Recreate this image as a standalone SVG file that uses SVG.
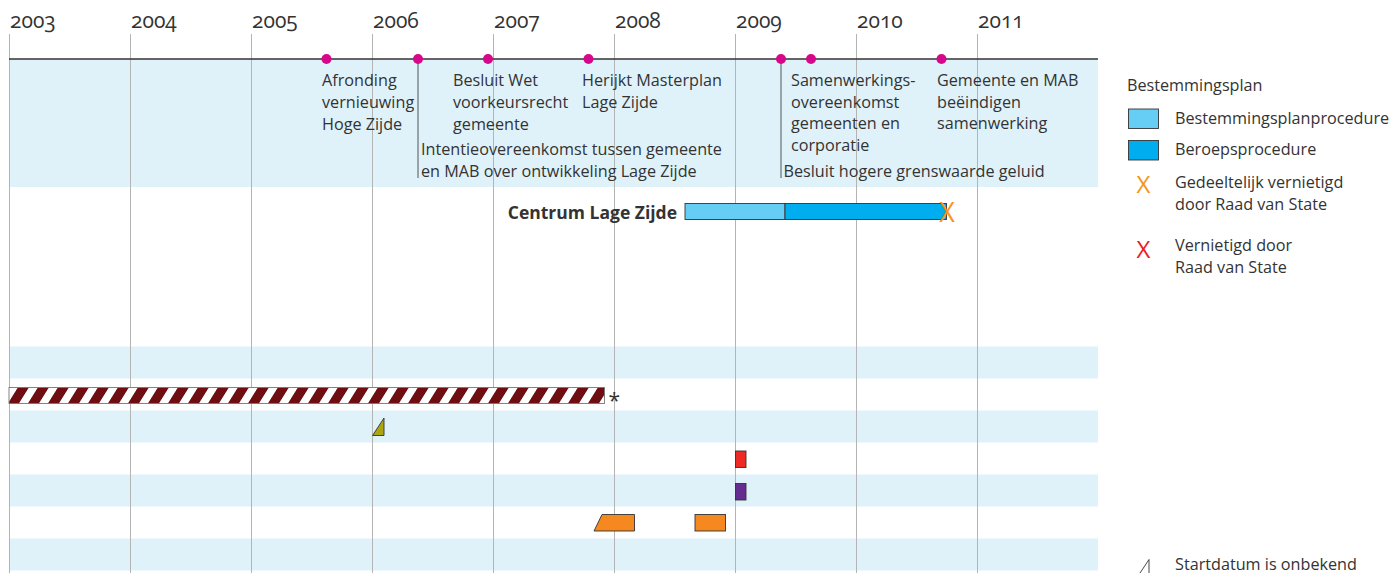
<svg xmlns="http://www.w3.org/2000/svg" width="1397" height="573" viewBox="0 0 1397 573">
<style>
text{font-family:"Open Sans","Liberation Sans",sans-serif;fill:#333333;font-size:16.2px}
.yr{font-size:21px;font-variant-numeric:oldstyle-nums;font-feature-settings:"onum"}
.band{fill:#dff2fa}
.grid{stroke:#b4b4b4;stroke-width:1;fill:none}
.dot{fill:#d6078b}
.pin{stroke:#555555;stroke-width:1}
.box{stroke:#333333;stroke-width:0.9}
.xo{fill:#f7941d;font-size:27px;text-anchor:middle}
.xr{fill:#ed1c24;font-size:27px;text-anchor:middle}
.lx{font-size:24px}
.title{font-size:17.5px;font-weight:bold;text-anchor:end}
.star{font-size:21px}
</style>
<defs>
<pattern id="stripes" patternUnits="userSpaceOnUse" width="20" height="40" patternTransform="skewX(-32)">
<rect x="0" y="0" width="20" height="40" fill="#ffffff"/>
<rect x="0" y="0" width="11" height="40" fill="#6e0e12"/>
</pattern>
</defs>
<rect width="1397" height="573" fill="#ffffff"/>

<g id="bands">
<rect class="band" x="9" y="59" width="1089" height="128"/>
<rect class="band" x="9" y="346.5" width="1089" height="32"/>
<rect class="band" x="9" y="410.5" width="1089" height="32"/>
<rect class="band" x="9" y="474.5" width="1089" height="32"/>
<rect class="band" x="9" y="538.5" width="1089" height="32"/>
</g>

<g id="grid" class="grid">
<line x1="9.5" y1="34" x2="9.5" y2="573"/>
<line x1="130.5" y1="34" x2="130.5" y2="573"/>
<line x1="251.5" y1="34" x2="251.5" y2="573"/>
<line x1="372.5" y1="34" x2="372.5" y2="573"/>
<line x1="493.5" y1="34" x2="493.5" y2="573"/>
<line x1="614.5" y1="34" x2="614.5" y2="573"/>
<line x1="735.5" y1="34" x2="735.5" y2="573"/>
<line x1="856.5" y1="34" x2="856.5" y2="573"/>
<line x1="977.5" y1="34" x2="977.5" y2="573"/>
</g>

<g id="years">
<text class="yr" x="10" y="28">2003</text>
<text class="yr" x="131" y="28">2004</text>
<text class="yr" x="252" y="28">2005</text>
<text class="yr" x="373" y="28">2006</text>
<text class="yr" x="494" y="28">2007</text>
<text class="yr" x="615" y="28">2008</text>
<text class="yr" x="736" y="28">2009</text>
<text class="yr" x="857" y="28">2010</text>
<text class="yr" x="978" y="28">2011</text>
</g>

<g id="connectors">
<line x1="9" y1="59" x2="1098" y2="59" stroke="#333333" stroke-width="1.3"/>
<line class="pin" x1="418" y1="59" x2="418" y2="178"/>
<line class="pin" x1="781" y1="59" x2="781" y2="178"/>
</g>

<g id="event-afronding">
<circle class="dot" cx="326.5" cy="59" r="5"/>
<text x="322" y="86">Afronding</text>
<text x="322" y="108">vernieuwing</text>
<text x="322" y="130">Hoge Zijde</text>
</g>
<g id="event-intentie">
<circle class="dot" cx="418" cy="59" r="5"/>
<text x="421" y="154.5">Intentieovereenkomst tussen gemeente</text>
<text x="421" y="176.5">en MAB over ontwikkeling Lage Zijde</text>
</g>
<g id="event-besluit-wet">
<circle class="dot" cx="488" cy="59" r="5"/>
<text x="453" y="86">Besluit Wet</text>
<text x="453" y="108">voorkeursrecht</text>
<text x="453" y="130">gemeente</text>
</g>
<g id="event-herijkt">
<circle class="dot" cx="588.5" cy="59" r="5"/>
<text x="582" y="86">Herijkt Masterplan</text>
<text x="582" y="108">Lage Zijde</text>
</g>
<g id="event-besluit-geluid">
<circle class="dot" cx="781" cy="59" r="5"/>
<text x="783.5" y="176.5">Besluit hogere grenswaarde geluid</text>
</g>
<g id="event-samenwerking">
<circle class="dot" cx="811" cy="59" r="5"/>
<text x="791" y="86">Samenwerkings-</text>
<text x="791" y="107.5">overeenkomst</text>
<text x="791" y="129">gemeenten en</text>
<text x="791" y="150.5">corporatie</text>
</g>
<g id="event-beeindigen">
<circle class="dot" cx="941.5" cy="59" r="5"/>
<text x="937" y="86">Gemeente en MAB</text>
<text x="937" y="107.5">beëindigen</text>
<text x="937" y="129">samenwerking</text>
</g>

<g id="centrum-lage-zijde">
<text class="title" x="677" y="218.5">Centrum Lage Zijde</text>
<rect class="box" x="685" y="203.5" width="100" height="16" fill="#66cef5"/>
<rect class="box" x="785" y="203.5" width="161.5" height="16" fill="#00aeef"/>
<text class="xo" x="947" y="221.5">X</text>
</g>

<g id="striped-bar">
<rect x="9" y="387.5" width="595.5" height="16" fill="url(#stripes)" stroke="#777777" stroke-width="0.9"/>
<text class="star" x="608.5" y="408">*</text>
</g>

<g id="start-unknown-triangle">
<polygon class="box" points="372.5,435.5 384,435.5 384,418" fill="#aba514"/>
</g>
<g id="red-block">
<rect class="box" x="735.5" y="451" width="10.5" height="16.5" fill="#ee2a24"/>
</g>
<g id="purple-block">
<rect class="box" x="735.5" y="483.5" width="10.5" height="16.5" fill="#662d91"/>
</g>
<g id="orange-blocks">
<polygon class="box" points="594,531 602,514.5 634.5,514.5 634.5,531" fill="#f5891f" stroke="#555555"/>
<rect class="box" x="695" y="514.5" width="30.5" height="16.5" fill="#f5891f" stroke="#555555"/>
</g>

<g id="legend">
<text x="1127" y="91">Bestemmingsplan</text>
<rect class="box" x="1128.5" y="109" width="30" height="19.5" fill="#66cef5"/>
<text x="1175" y="123.5">Bestemmingsplanprocedure</text>
<rect class="box" x="1128.5" y="140.5" width="30" height="19.5" fill="#00aeef"/>
<text x="1175" y="155">Beroepsprocedure</text>
<text class="xo lx" x="1143.5" y="192.5">X</text>
<text x="1175" y="187.5">Gedeeltelijk vernietigd</text>
<text x="1175" y="209.5">door Raad van State</text>
<text class="xr lx" x="1143.5" y="257.5">X</text>
<text x="1175" y="251">Vernietigd door</text>
<text x="1175" y="273">Raad van State</text>
<path d="M1140,573 L1149,559.5 L1149,573" fill="none" stroke="#333333" stroke-width="0.9"/>
<text x="1175" y="570">Startdatum is onbekend</text>
</g>
</svg>
